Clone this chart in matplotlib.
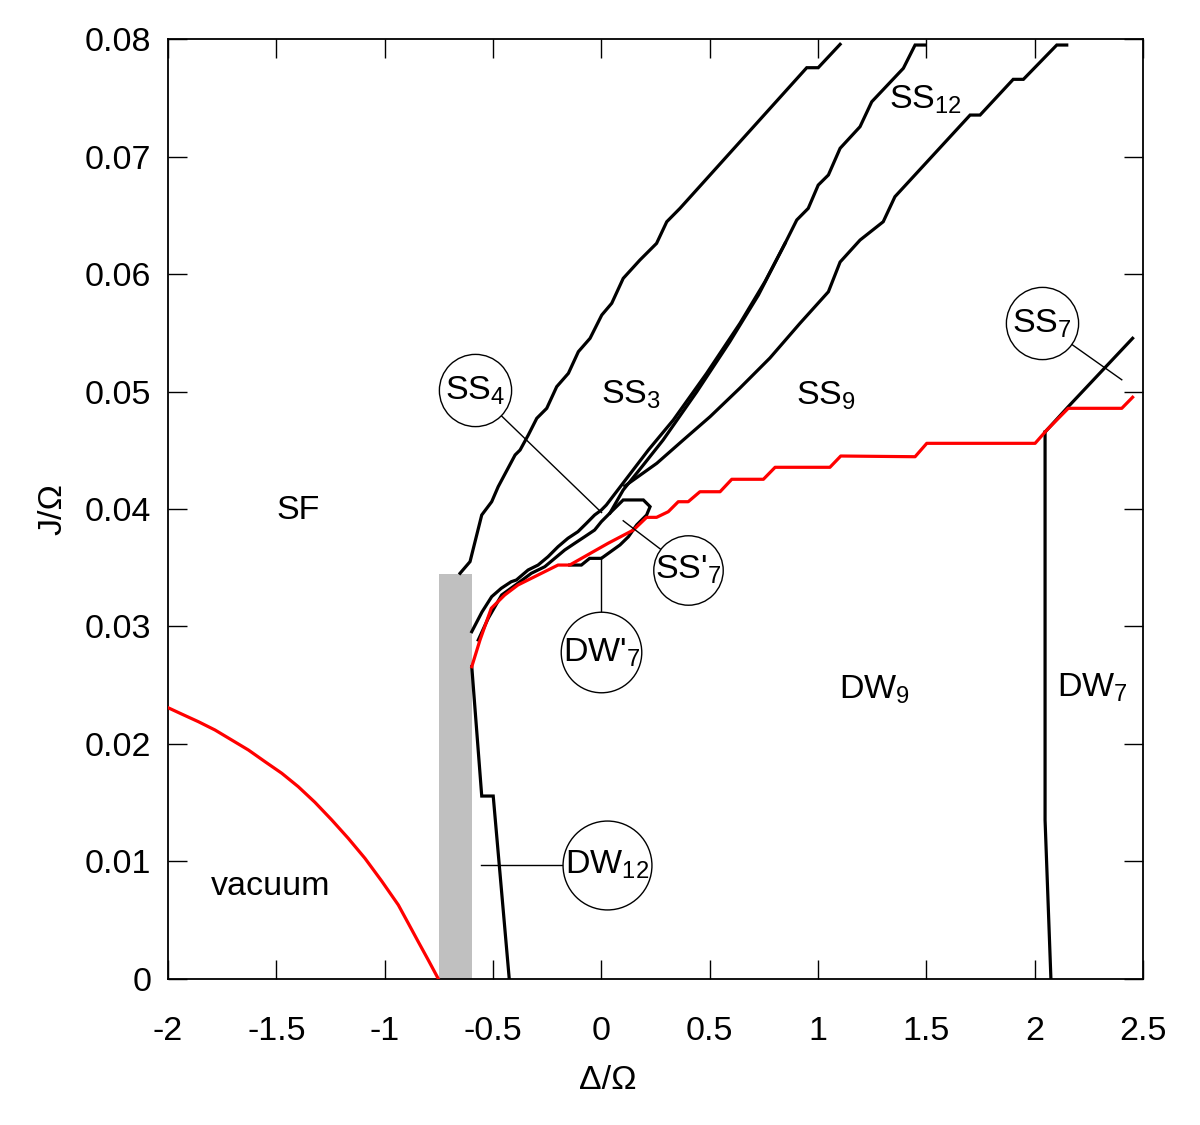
import numpy as np
import matplotlib
matplotlib.use('Agg')
import matplotlib.pyplot as plt
from matplotlib.ticker import FuncFormatter

plt.rcParams['font.family'] = ['Liberation Sans', 'DejaVu Sans']
plt.rcParams['mathtext.default'] = 'regular'
plt.rcParams['axes.unicode_minus'] = False

# vacuum / SF boundary (red)
vac_x = [-2.0, -1.937, -1.860, -1.783, -1.706, -1.629, -1.552, -1.475, -1.399, -1.322,
         -1.244, -1.168, -1.091, -1.014, -0.937, -0.891, -0.845, -0.799, -0.752]
vac_y = [0.02309, 0.02255, 0.02190, 0.02119, 0.02034, 0.01949, 0.01849, 0.01751, 0.01637, 0.01504,
         0.01353, 0.01197, 0.01027, 0.00834, 0.00630, 0.00474, 0.00317, 0.00162, 0.0]

# grey strip
bar_x0, bar_x1, bar_top = -0.749, -0.598, 0.03447

# SF / SS3 boundary
sf_x = [-0.652, -0.606, -0.552, -0.506, -0.476, -0.398, -0.375, -0.337, -0.298, -0.252,
        -0.206, -0.152, -0.106, -0.052, 0.002, 0.048, 0.101, 0.178, 0.255, 0.302,
        0.363, 0.948, 1.001, 1.102]
sf_y = [0.03453, 0.03552, 0.03949, 0.04062, 0.04190, 0.04460, 0.04502, 0.04630, 0.04772, 0.04857,
        0.05041, 0.05155, 0.05339, 0.05453, 0.05651, 0.05751, 0.05963, 0.06119, 0.06261, 0.06445,
        0.06559, 0.07756, 0.07756, 0.07955]

# SS3 lower boundary
a_x = [-0.598, -0.551, -0.506, -0.462, -0.416, -0.392, -0.338, -0.292, -0.246, -0.200,
       -0.154, -0.108, -0.069, -0.031, 0.000, 0.023, 0.217, 0.332, 0.486, 0.640,
       0.755, 0.848, 0.902, 0.955, 1.001, 1.048, 1.102, 1.194, 1.248, 1.394, 1.448, 1.494]
a_y = [0.02956, 0.03123, 0.03254, 0.03325, 0.03381, 0.03396, 0.03481, 0.03523, 0.03594, 0.03679,
       0.03751, 0.03807, 0.03878, 0.03949, 0.03991, 0.04034, 0.04502, 0.04757, 0.05155, 0.05581,
       0.05934, 0.06261, 0.06460, 0.06559, 0.06757, 0.06843, 0.07070, 0.07254, 0.07466, 0.07751,
       0.07949, 0.07949]

# lower band line, SS'7 pocket and DW'7 top
l3_x = [-0.568, -0.522, -0.460, -0.385, -0.323, -0.261, -0.215, -0.169, -0.123, -0.077,
        -0.031, 0.000, 0.040, 0.101, 0.194, 0.225, 0.209, 0.163, 0.125, 0.086,
        0.000, -0.054, -0.092, -0.146]
l3_y = [0.02885, 0.03070, 0.03268, 0.03368, 0.03453, 0.03509, 0.03580, 0.03651, 0.03708, 0.03764,
        0.03821, 0.03892, 0.03966, 0.04077, 0.04077, 0.04020, 0.03949, 0.03864, 0.03764, 0.03694,
        0.03580, 0.03580, 0.03523, 0.03523]

# SS12 sliver line
b_x = [0.040, 0.101, 0.190, 0.285, 0.440, 0.592, 0.725, 0.848]
b_y = [0.03966, 0.04162, 0.04366, 0.04587, 0.04996, 0.05421, 0.05821, 0.06261]

# SS12 / SS9 boundary
c_x = [0.109, 0.256, 0.378, 0.502, 0.640, 0.778, 0.917, 1.048, 1.102, 1.194,
       1.301, 1.355, 1.702, 1.748, 1.901, 1.948, 2.102, 2.148]
c_y = [0.04196, 0.04389, 0.04587, 0.04786, 0.05030, 0.05285, 0.05581, 0.05849, 0.06102, 0.06289,
       0.06445, 0.06658, 0.07353, 0.07353, 0.07657, 0.07657, 0.07949, 0.07949]

# SS / DW boundary (red)
red_x = [-0.598, -0.560, -0.508, -0.446, -0.385, -0.200, -0.146, 0.031, 0.148, 0.209,
         0.255, 0.309, 0.355, 0.401, 0.455, 0.548, 0.602, 0.748, 0.802, 1.055,
         1.105, 1.448, 1.502, 2.002, 2.056, 2.155, 2.402, 2.452]
red_y = [0.02658, 0.02885, 0.03155, 0.03268, 0.03353, 0.03523, 0.03523, 0.03708, 0.03821, 0.03929,
         0.03929, 0.03977, 0.04062, 0.04062, 0.04147, 0.04147, 0.04253, 0.04253, 0.04355, 0.04355,
         0.04451, 0.04445, 0.04559, 0.04559, 0.04672, 0.04857, 0.04857, 0.04951]

# DW12 / DW9 boundary
dw12_x = [-0.598, -0.552, -0.499, -0.425]
dw12_y = [0.02658, 0.01557, 0.01557, 0.0]

# DW9 / DW7 boundary
dw7_x = [2.048, 2.048, 2.075]
dw7_y = [0.04655, 0.01353, 0.0]

# SS9 / SS7 boundary
ss7_x = [2.048, 2.155, 2.452]
ss7_y = [0.04655, 0.04871, 0.05453]

# plain labels
labels = ['SF', 'vacuum', 'SS$_3$', 'SS$_9$', 'SS$_{12}$', 'DW$_9$', 'DW$_7$']
label_x = [-1.40, -1.525, 0.137, 1.037, 1.494, 1.263, 2.265]
label_y = [0.0399, 0.00783, 0.0497, 0.0496, 0.0748, 0.0246, 0.0248]

# circled labels: text, centre, pointer target, circle size
circ_labels = ['SS$_4$', "SS'$_7$", "DW'$_7$", 'DW$_{12}$', 'SS$_7$']
circ_x = [-0.583, 0.400, 0.000, 0.026, 2.034]
circ_y = [0.0501, 0.0348, 0.0278, 0.0097, 0.0558]
point_x = [0.001, 0.101, 0.000, -0.556, 2.402]
point_y = [0.0397, 0.0390, 0.0359, 0.0097, 0.0510]
circ_ms = [52, 50, 58, 64, 52]

fs = 24.5

fig = plt.figure(figsize=(12, 11.25), dpi=100)
ax = fig.add_axes([0.14, 0.1298, 0.8125, 0.8355])

ax.fill_between([bar_x0, bar_x1], 0, bar_top, color='#c0c0c0', lw=0, zorder=1)

lw = 2.3
for xs, ys in [(sf_x, sf_y), (a_x, a_y), (l3_x, l3_y), (b_x, b_y), (c_x, c_y),
               (dw12_x, dw12_y), (dw7_x, dw7_y), (ss7_x, ss7_y)]:
    ax.plot(xs, ys, color='black', lw=lw, zorder=3, solid_joinstyle='miter')
ax.plot(red_x, red_y, color='red', lw=lw, zorder=4)
ax.plot(vac_x, vac_y, color='red', lw=lw, zorder=4)

for t, x, y in zip(labels, label_x, label_y):
    ax.text(x, y, t, fontsize=fs, ha='center', va='center', zorder=6)

for t, x, y, px, py, ms in zip(circ_labels, circ_x, circ_y, point_x, point_y, circ_ms):
    ax.plot([x, px], [y, py], color='black', lw=1.0, zorder=5)
    ax.plot(x, y, 'o', ms=ms, mfc='white', mec='black', mew=1.0, zorder=6)
    ax.text(x, y, t, fontsize=fs, ha='center', va='center', zorder=7)

ax.set_xlim(-2, 2.5)
ax.set_ylim(0, 0.08)
ax.set_xticks(np.arange(-2, 2.51, 0.5))
ax.set_yticks(np.arange(0, 0.0801, 0.01))
fmt = FuncFormatter(lambda v, p: '%g' % round(v, 4))
ax.xaxis.set_major_formatter(fmt)
ax.yaxis.set_major_formatter(fmt)
ax.tick_params(direction='in', length=14, width=1.0, top=True, right=True,
               labelsize=fs)
ax.tick_params(axis='x', pad=27)
ax.tick_params(axis='y', pad=12)
for s in ax.spines.values():
    s.set_linewidth(1.3)
ax.set_xlabel('Δ/Ω', fontsize=fs)
ax.xaxis.set_label_coords(0.451, -0.092)
ax.set_ylabel('J/Ω', fontsize=fs, labelpad=12)

fig.savefig('out.png', dpi=100)
